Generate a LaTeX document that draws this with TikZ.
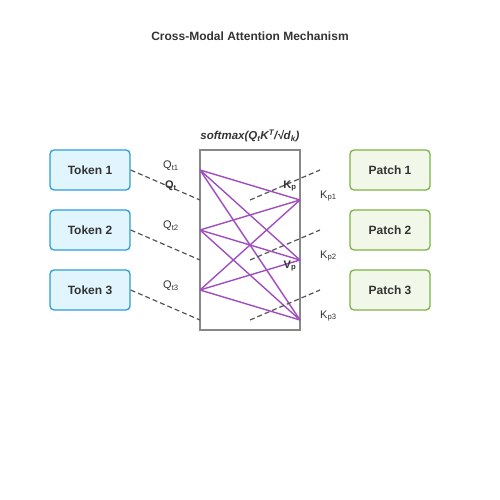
\documentclass[tikz,border=0pt]{standalone}
\usepackage{fontspec}
\setmainfont{Liberation Sans}
\definecolor{tokstroke}{HTML}{2D9CDB}
\definecolor{tokfill}{HTML}{E1F5FE}
\definecolor{patstroke}{HTML}{7CB342}
\definecolor{patfill}{HTML}{F1F8E9}
\definecolor{attn}{HTML}{A04FC0}
\definecolor{dashc}{HTML}{555555}
\definecolor{boxc}{HTML}{888888}
\definecolor{txt}{HTML}{333333}
\begin{document}
\begin{tikzpicture}[x=1pt,y=-1pt,
  tokbox/.style={draw=tokstroke,fill=tokfill,line width=1.3pt,rounded corners=4pt,minimum width=80pt,minimum height=40pt,font=\fontsize{12}{14}\selectfont\bfseries,text=txt},
  patbox/.style={draw=patstroke,fill=patfill,line width=1.3pt,rounded corners=4pt,minimum width=80pt,minimum height=40pt,font=\fontsize{12}{14}\selectfont\bfseries,text=txt},
  dashline/.style={draw=dashc,line width=1.2pt,dash pattern=on 5pt off 3pt},
  attnline/.style={draw=attn,line width=1.4pt},
  lbl/.style={font=\fontsize{11}{13}\selectfont,text=txt,inner sep=0pt},
  blbl/.style={font=\fontsize{11}{13}\selectfont\bfseries,text=txt,inner sep=0pt}]
\useasboundingbox (0,0) rectangle (500,500);
\node[font=\fontsize{12}{14}\selectfont\bfseries,text=txt] (title) at (250,36) {Cross-Modal Attention Mechanism};
\node[font=\fontsize{11.5}{13}\selectfont\bfseries\itshape,text=txt] (formula) at (250,136) {softmax(Q\textsubscript{t}K\textsuperscript{T}/√d\textsubscript{k})};
\node[draw=boxc,line width=1.2pt,minimum width=100pt,minimum height=180pt,inner sep=0pt] (attbox) at (250,240) {};
\foreach \i/\y in {1/170,2/230,3/290}{
  \node[tokbox] (t\i) at (90,\y) {Token \i};
  \node[patbox] (p\i) at (390,\y) {Patch \i};
  \coordinate (L\i) at (200,\y);
  \coordinate (R\i) at (300,\y+30);
  \coordinate (ql\i) at (200,\y+30);
  \coordinate (ks\i) at (250,\y+30);
  \coordinate (ke\i) at (320,\y);
  \node[lbl,anchor=west] (q\i) at (163,\y-4) {Q\textsubscript{t\i}};
  \node[lbl,anchor=west] (k\i) at (320,\y+26) {K\textsubscript{p\i}};
}
\foreach \i in {1,2,3}{
  \draw[dashline] (t\i.east) -- (ql\i);
  \draw[dashline] (ks\i) -- (ke\i);
  \foreach \j in {1,2,3}{\draw[attnline] (L\i) -- (R\j);}
}
\node[blbl] (qb) at (171,186) {Q\textsubscript{t}};
\node[blbl] (kb) at (290,186) {K\textsubscript{p}};
\node[blbl] (vb) at (290,266) {V\textsubscript{p}};
\end{tikzpicture}
\end{document}
